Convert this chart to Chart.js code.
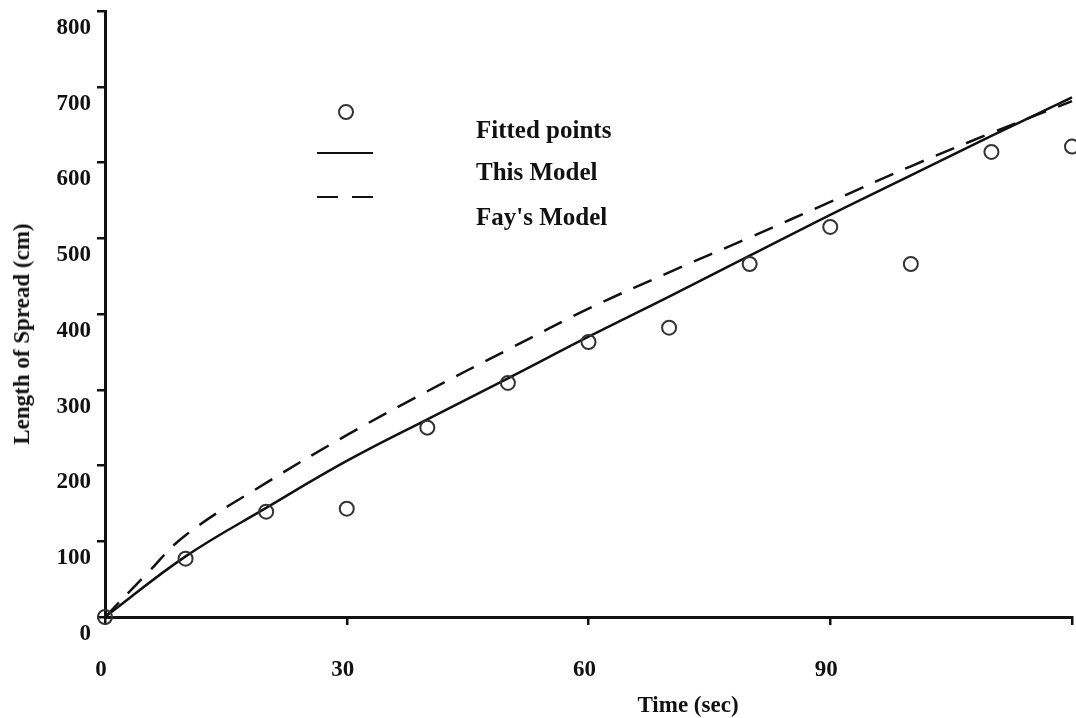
<!DOCTYPE html>
<html>
<head>
<meta charset="utf-8">
<script src="https://cdn.jsdelivr.net/npm/chart.js@4/dist/chart.umd.min.js"></script>
<style>
  html, body { margin: 0; padding: 0; background: #fff; }
  #wrap { position: relative; width: 1076px; height: 718px; font-family: 'Liberation Serif', 'Times New Roman', serif; font-weight: bold; color: #111; }
  #cv { position: absolute; left: 0; top: 0; }
  .lg-txt { position: absolute; left: 476px; font-size: 25px; line-height: 28px; white-space: nowrap; }
  .lg-dot { position: absolute; left: 338px; top: 104px; width: 12px; height: 12px; border: 2px solid #333; border-radius: 50%; }
  .lg-line { position: absolute; height: 0; border-top: 2.5px solid #111; }
  .ttl { position: absolute; font-size: 23px; white-space: nowrap; }
  #ytitle { left: 22px; top: 334px; transform: translate(-50%, -50%) rotate(-90deg); }
  #xtitle { left: 688px; top: 705px; transform: translate(-50%, -50%); }
</style>
</head>
<body>
<div id="wrap">
  <canvas id="cv" width="1076" height="718"></canvas>
  <div class="lg-dot"></div>
  <div class="lg-line" style="left:317px;top:152px;width:56px"></div>
  <div class="lg-line" style="left:317px;top:196px;width:21px"></div>
  <div class="lg-line" style="left:352px;top:196px;width:21px"></div>
  <div class="lg-txt" style="top:116px">Fitted points</div>
  <div class="lg-txt" style="top:158px">This Model</div>
  <div class="lg-txt" style="top:203px">Fay's Model</div>
  <div class="ttl" id="ytitle">Length of Spread (cm)</div>
  <div class="ttl" id="xtitle">Time (sec)</div>
</div>
<script>
  // measured points (sec, cm)
  var fitX = [0, 10, 20, 30, 40, 50, 60, 70, 80, 90, 100, 110, 120];
  var fitY = [0, 77, 139, 143, 250, 309, 363, 382, 466, 515, 466, 614, 621];

  // "This Model" curve
  var modelX = [0, 10, 20, 30, 40, 50, 60, 70, 80, 90, 100, 110, 120];
  var modelY = [0, 80, 144, 206, 261, 315, 370, 423, 477, 531, 583, 635, 686];

  // Fay's model curve
  var fayX = [0, 5, 10, 20, 30, 40, 50, 60, 70, 80, 90, 100, 110, 120];
  var fayY = [0, 55, 108, 177, 240, 298, 353, 407, 455, 501, 548, 595, 639, 681];

  var xTicks = [0, 30, 60, 90, 120];
  var INK = '#111';
  var FONT = { family: "'Liberation Serif', 'Times New Roman', serif", size: 23, weight: 'bold' };

  function pts(xs, ys) { return xs.map(function (x, i) { return { x: x, y: ys[i] }; }); }

  new Chart(document.getElementById('cv'), {
    type: 'scatter',
    data: {
      datasets: [
        { label: 'Fitted points', data: pts(fitX, fitY), showLine: false,
          pointRadius: 7, pointBorderWidth: 2, pointBorderColor: '#333', pointBackgroundColor: 'rgba(0,0,0,0)', clip: false },
        { label: 'This Model', data: pts(modelX, modelY), showLine: true, pointRadius: 0,
          borderColor: INK, borderWidth: 2.5, tension: 0.4, clip: false },
        { label: "Fay's Model", data: pts(fayX, fayY), showLine: true, pointRadius: 0,
          borderColor: INK, borderWidth: 2.5, borderDash: [20, 13], tension: 0.4, clip: false },
      ],
    },
    options: {
      responsive: false, animation: false, devicePixelRatio: 1,
      layout: { autoPadding: false, padding: { top: 11, right: 4, left: 0, bottom: 0 } },
      plugins: { legend: { display: false }, tooltip: { enabled: false } },
      scales: {
        x: {
          type: 'linear', min: 0, max: 120,
          afterBuildTicks: function (s) { s.ticks = xTicks.map(function (v) { return { value: v }; }); },
          afterFit: function (s) { s.height = 101; s.paddingLeft = 0; s.paddingRight = 0; },
          grid: { drawOnChartArea: false, drawTicks: true, tickLength: 8, color: INK, lineWidth: 2.5 },
          border: { display: true, color: INK, width: 3 },
          ticks: { color: INK, font: FONT, padding: 31, labelOffset: -4, maxRotation: 0,
                   callback: function (v) { return v === 120 ? '' : v; } },
        },
        y: {
          type: 'linear', min: 0, max: 800,
          afterFit: function (s) { s.width = 105; s.paddingTop = 0; s.paddingBottom = 0; },
          grid: { drawOnChartArea: false, drawTicks: true, tickLength: 8, color: INK, lineWidth: 2.5 },
          border: { display: true, color: INK, width: 3 },
          ticks: { color: INK, font: FONT, stepSize: 100, padding: 6, labelOffset: 17 },
        },
      },
    },
  });
</script>
</body>
</html>
